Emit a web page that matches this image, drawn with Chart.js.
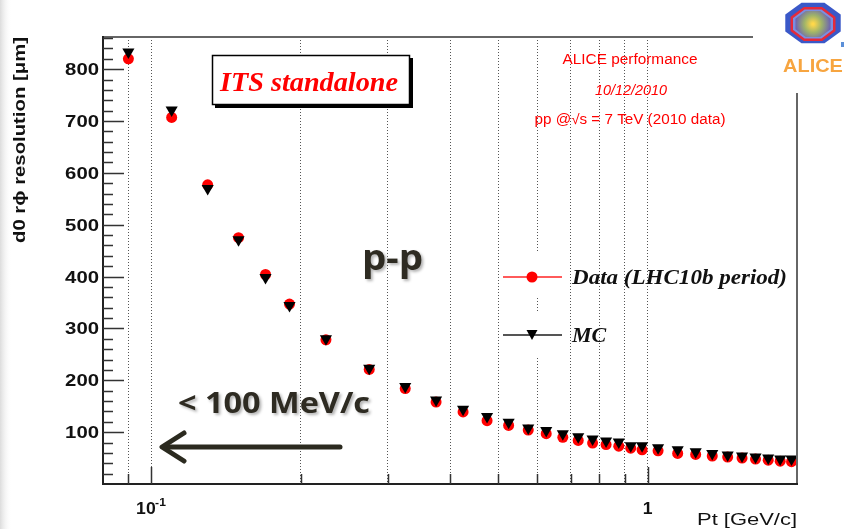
<!DOCTYPE html>
<html>
<head>
<meta charset="utf-8">
<script src="https://cdn.jsdelivr.net/npm/chart.js@4.4.1/dist/chart.umd.min.js"></script>
<style>
    html, body { margin: 0; padding: 0; background: #fff; }
    #wrap { width: 850px; height: 529px; position: relative; }
</style>
</head>
<body>
<div id="wrap"><canvas id="resChart" width="850" height="529"></canvas></div>
<script>
// Data
const ptValues = [0.09, 0.11, 0.13, 0.15, 0.17, 0.19, 0.225, 0.275, 0.325, 0.375, 0.425, 0.475, 0.525, 0.575, 0.625, 0.675,
    0.725, 0.775, 0.825, 0.875, 0.925, 0.975, 1.05, 1.15, 1.25, 1.35, 1.45, 1.55, 1.65, 1.75, 1.85, 1.95];
const dataRes = [820, 707, 577, 475, 404, 347, 278, 221, 184, 158, 139, 122, 113, 104, 97, 90,
    84, 79, 76, 73, 69, 66, 64, 59, 57, 54, 52, 50, 48, 46, 44, 43];
const mcRes = [833, 721, 570, 471, 398, 344, 280, 223, 188, 162, 144, 130, 119, 108, 103, 97,
    91, 87, 83, 81, 74, 74, 70, 66, 62, 59, 56, 54, 52, 50, 48, 48];

// Axis setup
const xGridValues = [0.09, 0.1, 0.2, 0.3, 0.4, 0.5, 0.6, 0.7, 0.8, 0.9, 1];
const xLabelValues = [0.1, 1];
const xLabelBase = ['10', '1'];
const xLabelExp = ['-1', ''];
const yTickValues = [100, 200, 300, 400, 500, 600, 700, 800];
const yMinorStep = 20;

// Text helpers
function drawText(ctx, str, x, y, font, color, align, sx) {
    ctx.save();
    ctx.font = font;
    ctx.fillStyle = color;
    ctx.textAlign = align || 'left';
    ctx.textBaseline = 'alphabetic';
    ctx.translate(x, y);
    ctx.scale(sx || 1, 1);
    ctx.fillText(str, 0, 0);
    ctx.restore();
}

function fitScale(ctx, str, font, width) {
    ctx.save();
    ctx.font = font;
    const w = ctx.measureText(str).width;
    ctx.restore();
    return width / w;
}

function octagon(ctx, cx, cy, rx, ry) {
    ctx.beginPath();
    for (let i = 0; i < 8; i++) {
        const a = Math.PI / 8 + i * Math.PI / 4;
        const px = cx + rx * Math.cos(a), py = cy + ry * Math.sin(a);
        if (i === 0) ctx.moveTo(px, py); else ctx.lineTo(px, py);
    }
    ctx.closePath();
}

const decorPlugin = {
    id: 'decor',
    beforeDraw(chart) {
        const ctx = chart.ctx;
        ctx.save();
        ctx.fillStyle = '#fff';
        ctx.fillRect(0, 0, chart.width, chart.height);
        const g = ctx.createLinearGradient(0, 0, 12, 0);
        g.addColorStop(0, '#dcdcdc');
        g.addColorStop(1, 'rgba(255,255,255,0)');
        ctx.fillStyle = g;
        ctx.fillRect(0, 0, 12, chart.height);
        ctx.restore();
    },
    beforeDatasetsDraw(chart) {
        const ctx = chart.ctx;
        ctx.save();
        // ITS standalone box with shadow
        ctx.fillStyle = '#000';
        ctx.fillRect(215, 58, 198, 50);
        ctx.fillStyle = '#fff';
        ctx.fillRect(212, 55, 198, 50);
        ctx.strokeStyle = '#000';
        ctx.lineWidth = 1.5;
        ctx.strokeRect(212.5, 55.5, 197, 49);
        // white behind legend markers
        ctx.fillStyle = '#fff';
        ctx.fillRect(505, 253, 60, 45);
        ctx.fillRect(505, 313, 60, 44);
        ctx.restore();
    },
    afterDraw(chart) {
        const ctx = chart.ctx;
        const xs = chart.scales.x, ys = chart.scales.y;
        const a = chart.chartArea;
        ctx.save();

        // Cover top-right corner for the logo
        ctx.fillStyle = '#fff';
        ctx.fillRect(753, 0, 97, 93);

        // Frame
        ctx.lineWidth = 2;
        ctx.strokeStyle = '#666';
        ctx.beginPath();
        ctx.moveTo(a.left, a.top); ctx.lineTo(753, a.top);
        ctx.moveTo(a.right, 93); ctx.lineTo(a.right, a.bottom);
        ctx.stroke();
        ctx.strokeStyle = '#222';
        ctx.beginPath();
        ctx.moveTo(a.left, a.top - 1); ctx.lineTo(a.left, a.bottom);
        ctx.lineTo(a.right + 1, a.bottom);
        ctx.stroke();

        // Y ticks (inside)
        ctx.strokeStyle = '#333';
        ctx.lineWidth = 1.5;
        ctx.beginPath();
        for (let v = yMinorStep; v < ys.max; v += yMinorStep) {
            const py = Math.round(ys.getPixelForValue(v)) + 0.5;
            const len = yTickValues.includes(v) ? 21 : 10;
            ctx.moveTo(a.left, py); ctx.lineTo(a.left + len, py);
        }
        // X ticks (inside)
        xGridValues.forEach(v => {
            const px = Math.round(xs.getPixelForValue(v)) + 0.5;
            const len = xLabelValues.includes(v) ? 17 : 10;
            ctx.moveTo(px, a.bottom); ctx.lineTo(px, a.bottom - len);
        });
        ctx.stroke();

        // Y tick labels
        const yFont = 'bold 16px "Liberation Sans", Arial, sans-serif';
        yTickValues.forEach(v => {
            drawText(ctx, String(v), 99, ys.getPixelForValue(v) + 6, yFont, '#111', 'right', 1.27);
        });

        // X tick labels
        xLabelValues.forEach((v, i) => {
            const px = xs.getPixelForValue(v);
            if (xLabelExp[i]) {
                drawText(ctx, xLabelBase[i], px - 15, 514, yFont, '#111', 'left', 1.1);
                drawText(ctx, xLabelExp[i], px + 4, 506, 'bold 11px "Liberation Sans", Arial, sans-serif', '#111', 'left', 1.1);
            } else {
                drawText(ctx, xLabelBase[i], px, 514, yFont, '#111', 'center', 1.1);
            }
        });

        // Axis titles
        const xtFont = '16px "Liberation Sans", Arial, sans-serif';
        drawText(ctx, 'Pt [GeV/c]', 797, 525, xtFont, '#111', 'right', fitScale(ctx, 'Pt [GeV/c]', xtFont, 100));
        const ytStr = 'd0 r\u03d5 resolution [\u03bcm]';
        const ytFont = 'bold 16px "Liberation Sans", Arial, sans-serif';
        ctx.save();
        ctx.translate(25, 140);
        ctx.rotate(-Math.PI / 2);
        drawText(ctx, ytStr, 0, 0, ytFont, '#111', 'center', fitScale(ctx, ytStr, ytFont, 206));
        ctx.restore();

        // ITS standalone
        const itsFont = 'bold italic 28px "Liberation Serif", "Times New Roman", serif';
        drawText(ctx, 'ITS standalone', 309, 91, itsFont, '#f00', 'center', fitScale(ctx, 'ITS standalone', itsFont, 178));

        // ALICE performance block
        const apFont = '14px "Liberation Sans", Arial, sans-serif';
        drawText(ctx, 'ALICE performance', 630, 64, apFont, '#f00', 'center', fitScale(ctx, 'ALICE performance', apFont, 135));
        const dtFont = 'italic 14px "Liberation Sans", Arial, sans-serif';
        drawText(ctx, '10/12/2010', 631, 95, dtFont, '#f00', 'center', fitScale(ctx, '10/12/2010', dtFont, 72));
        const ppStr = 'pp @\u221As = 7 TeV (2010 data)';
        const ppSx = fitScale(ctx, ppStr, apFont, 191);
        drawText(ctx, ppStr, 630, 124, apFont, '#f00', 'center', ppSx);

        // Legend
        ctx.lineWidth = 2;
        ctx.strokeStyle = '#ff5a5a';
        ctx.beginPath(); ctx.moveTo(503, 277); ctx.lineTo(562, 277); ctx.stroke();
        ctx.fillStyle = '#f00';
        ctx.beginPath(); ctx.arc(532, 277, 5.5, 0, Math.PI * 2); ctx.fill();
        ctx.strokeStyle = '#555';
        ctx.beginPath(); ctx.moveTo(503, 335); ctx.lineTo(562, 335); ctx.stroke();
        ctx.fillStyle = '#000';
        ctx.beginPath(); ctx.moveTo(526.5, 330); ctx.lineTo(537.5, 330); ctx.lineTo(532, 340); ctx.closePath(); ctx.fill();
        const lgFont = 'bold italic 22px "Liberation Serif", "Times New Roman", serif';
        drawText(ctx, 'Data (LHC10b period)', 572, 284, lgFont, '#111', 'left', fitScale(ctx, 'Data (LHC10b period)', lgFont, 215));
        drawText(ctx, 'MC', 572, 342, lgFont, '#111', 'left', 1);

        // p-p and momentum annotation
        ctx.save();
        ctx.shadowColor = 'rgba(0,0,0,0.3)';
        ctx.shadowBlur = 3;
        ctx.shadowOffsetX = 2;
        ctx.shadowOffsetY = 2;
        const ppLbl = 'bold 36px "Open Sans", Lato, sans-serif';
        drawText(ctx, 'p-p', 362, 270, ppLbl, '#2e2b22', 'left', fitScale(ctx, 'p-p', ppLbl, 61));
        const mevFont = 'bold 28px "Open Sans", Lato, sans-serif';
        drawText(ctx, '< 100 MeV/c', 178, 413, mevFont, '#2e2b22', 'left', fitScale(ctx, '< 100 MeV/c', mevFont, 192));
        ctx.restore();

        // Arrow
        ctx.strokeStyle = '#2b2a1f';
        ctx.lineWidth = 5;
        ctx.lineCap = 'round';
        ctx.lineJoin = 'round';
        ctx.beginPath(); ctx.moveTo(340, 447); ctx.lineTo(164, 447); ctx.stroke();
        ctx.beginPath(); ctx.moveTo(184, 433); ctx.lineTo(162, 447); ctx.lineTo(184, 461); ctx.stroke();

        // ALICE logo
        octagon(ctx, 813, 23, 30, 22);
        ctx.fillStyle = '#3a58c8';
        ctx.fill();
        octagon(ctx, 813, 24, 23, 17);
        ctx.fillStyle = '#7b8fe0';
        ctx.fill();
        ctx.strokeStyle = '#e52a3a';
        ctx.lineWidth = 2.5;
        ctx.stroke();
        const rg = ctx.createRadialGradient(813, 24, 1, 813, 24, 18);
        rg.addColorStop(0, '#ffd84a');
        rg.addColorStop(0.45, '#9fb36a');
        rg.addColorStop(1, '#6a5fb5');
        octagon(ctx, 813, 24, 19, 14);
        ctx.fillStyle = rg;
        ctx.fill();
        drawText(ctx, 'ALICE', 813, 72, 'bold 19px "Liberation Sans", Arial, sans-serif', '#f7a540', 'center', 1.05);
        ctx.fillStyle = '#5b8fd8';
        ctx.fillRect(841, 42, 3, 5);
        ctx.restore();
    }
};

const ctx = document.getElementById('resChart');
new Chart(ctx, {
    type: 'scatter',
    data: {
        datasets: [{
            label: 'Data (LHC10b period)',
            data: ptValues.map((x, i) => ({ x: x, y: dataRes[i] })),
            pointStyle: 'circle',
            pointRadius: 5.5,
            backgroundColor: '#ff0000',
            borderWidth: 0,
            order: 1
        }, {
            label: 'MC',
            data: ptValues.map((x, i) => ({ x: x, y: mcRes[i] })),
            pointStyle: 'triangle',
            rotation: 180,
            pointRadius: 7,
            backgroundColor: '#000000',
            borderWidth: 0,
            order: 0
        }]
    },
    options: {
        responsive: false,
        animation: false,
        devicePixelRatio: 1,
        layout: { padding: { left: 103, right: 53, top: 37, bottom: 45 } },
        plugins: { legend: { display: false }, tooltip: { enabled: false } },
        scales: {
            x: {
                type: 'logarithmic',
                min: 0.08,
                max: 2,
                afterFit: s => { s.height = 0; },
                afterBuildTicks: s => { s.ticks = xGridValues.map(v => ({ value: v })); },
                ticks: { display: false },
                grid: { color: '#555', lineWidth: 1, drawTicks: false },
                border: { display: false, dash: [1, 2] }
            },
            y: {
                type: 'linear',
                min: 0,
                max: 862,
                afterFit: s => { s.width = 0; },
                ticks: { display: false },
                grid: { display: false },
                border: { display: false }
            }
        }
    },
    plugins: [decorPlugin]
});
</script>
</body>
</html>
